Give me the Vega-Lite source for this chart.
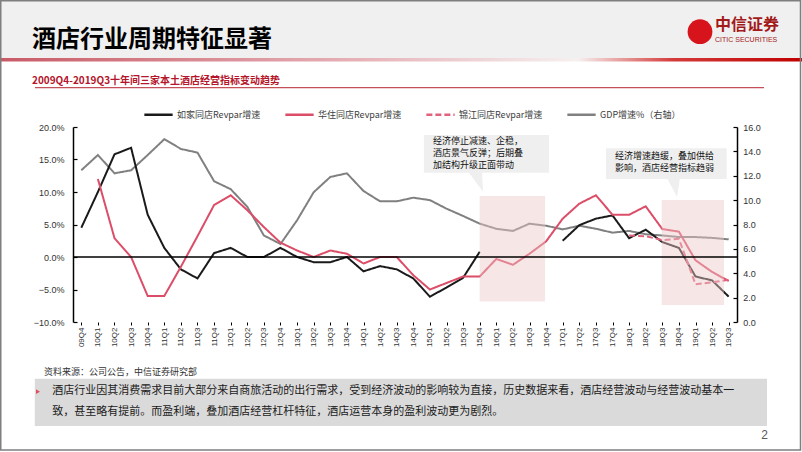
{
  "$schema": "https://vega.github.io/schema/vega-lite/v6.json",
  "width": 664,
  "height": 195,
  "autosize": {"type": "none"},
  "padding": {"left": 73, "top": 127, "right": 65, "bottom": 130},
  "background": "#ffffff",
  "title": {
    "text": "酒店行业周期特征显著",
    "subtitle": "2009Q4-2019Q3十年间三家本土酒店经营指标变动趋势",
    "anchor": "start",
    "frame": "group",
    "dx": -41,
    "offset": -86,
    "font": "Noto Sans CJK SC",
    "fontSize": 24,
    "fontWeight": "bold",
    "color": "#000000",
    "subtitleFont": "Noto Sans CJK SC",
    "subtitleFontSize": 10,
    "subtitleFontWeight": "bold",
    "subtitleColor": "#b5152b",
    "subtitlePadding": 24
  },
  "config": {
    "view": {"stroke": null},
    "font": "Noto Sans CJK SC",
    "axis": {"grid": false}
  },
  "datasets": {
    "rev": [
      {"q":"09Q4","s":"如家同店Revpar增速","v":4.5},
      {"q":"10Q1","s":"如家同店Revpar增速","v":10.0},
      {"q":"10Q2","s":"如家同店Revpar增速","v":15.8},
      {"q":"10Q3","s":"如家同店Revpar增速","v":16.8},
      {"q":"10Q4","s":"如家同店Revpar增速","v":6.5},
      {"q":"11Q1","s":"如家同店Revpar增速","v":1.4},
      {"q":"11Q2","s":"如家同店Revpar增速","v":-1.9},
      {"q":"11Q3","s":"如家同店Revpar增速","v":-3.3},
      {"q":"11Q4","s":"如家同店Revpar增速","v":0.6},
      {"q":"12Q1","s":"如家同店Revpar增速","v":1.4},
      {"q":"12Q2","s":"如家同店Revpar增速","v":0.0},
      {"q":"12Q3","s":"如家同店Revpar增速","v":0.0},
      {"q":"12Q4","s":"如家同店Revpar增速","v":1.4},
      {"q":"13Q1","s":"如家同店Revpar增速","v":0.0},
      {"q":"13Q2","s":"如家同店Revpar增速","v":-0.8},
      {"q":"13Q3","s":"如家同店Revpar增速","v":-0.8},
      {"q":"13Q4","s":"如家同店Revpar增速","v":0.0},
      {"q":"14Q1","s":"如家同店Revpar增速","v":-2.2},
      {"q":"14Q2","s":"如家同店Revpar增速","v":-1.4},
      {"q":"14Q3","s":"如家同店Revpar增速","v":-1.9},
      {"q":"14Q4","s":"如家同店Revpar增速","v":-3.3},
      {"q":"15Q1","s":"如家同店Revpar增速","v":-6.1},
      {"q":"15Q2","s":"如家同店Revpar增速","v":-4.7},
      {"q":"15Q3","s":"如家同店Revpar增速","v":-3.2},
      {"q":"15Q4","s":"如家同店Revpar增速","v":0.8},
      {"q":"16Q1","s":"如家同店Revpar增速","v":null},
      {"q":"16Q2","s":"如家同店Revpar增速","v":null},
      {"q":"16Q3","s":"如家同店Revpar增速","v":null},
      {"q":"16Q4","s":"如家同店Revpar增速","v":null},
      {"q":"17Q1","s":"如家同店Revpar增速","v":2.5},
      {"q":"17Q2","s":"如家同店Revpar增速","v":4.9},
      {"q":"17Q3","s":"如家同店Revpar增速","v":5.9},
      {"q":"17Q4","s":"如家同店Revpar增速","v":6.4},
      {"q":"18Q1","s":"如家同店Revpar增速","v":2.9},
      {"q":"18Q2","s":"如家同店Revpar增速","v":4.2},
      {"q":"18Q3","s":"如家同店Revpar增速","v":2.3},
      {"q":"18Q4","s":"如家同店Revpar增速","v":1.4},
      {"q":"19Q1","s":"如家同店Revpar增速","v":-3.0},
      {"q":"19Q2","s":"如家同店Revpar增速","v":-3.6},
      {"q":"19Q3","s":"如家同店Revpar增速","v":-6.1},
      {"q":"10Q1","s":"华住同店Revpar增速","v":12.0},
      {"q":"10Q2","s":"华住同店Revpar增速","v":2.9},
      {"q":"10Q3","s":"华住同店Revpar增速","v":0.0},
      {"q":"10Q4","s":"华住同店Revpar增速","v":-6.0},
      {"q":"11Q1","s":"华住同店Revpar增速","v":-6.0},
      {"q":"11Q2","s":"华住同店Revpar增速","v":-1.5},
      {"q":"11Q3","s":"华住同店Revpar增速","v":3.2},
      {"q":"11Q4","s":"华住同店Revpar增速","v":8.0},
      {"q":"12Q1","s":"华住同店Revpar增速","v":9.5},
      {"q":"12Q2","s":"华住同店Revpar增速","v":7.2},
      {"q":"12Q3","s":"华住同店Revpar增速","v":4.6},
      {"q":"12Q4","s":"华住同店Revpar增速","v":2.2},
      {"q":"13Q1","s":"华住同店Revpar增速","v":1.0},
      {"q":"13Q2","s":"华住同店Revpar增速","v":0.0},
      {"q":"13Q3","s":"华住同店Revpar增速","v":1.0},
      {"q":"13Q4","s":"华住同店Revpar增速","v":0.5},
      {"q":"14Q1","s":"华住同店Revpar增速","v":-1.0},
      {"q":"14Q2","s":"华住同店Revpar增速","v":0.0},
      {"q":"14Q3","s":"华住同店Revpar增速","v":0.0},
      {"q":"14Q4","s":"华住同店Revpar增速","v":-2.8},
      {"q":"15Q1","s":"华住同店Revpar增速","v":-5.0},
      {"q":"15Q2","s":"华住同店Revpar增速","v":-4.0},
      {"q":"15Q3","s":"华住同店Revpar增速","v":-3.0},
      {"q":"15Q4","s":"华住同店Revpar增速","v":-3.0},
      {"q":"16Q1","s":"华住同店Revpar增速","v":-0.3},
      {"q":"16Q2","s":"华住同店Revpar增速","v":-1.2},
      {"q":"16Q3","s":"华住同店Revpar增速","v":0.5},
      {"q":"16Q4","s":"华住同店Revpar增速","v":2.4},
      {"q":"17Q1","s":"华住同店Revpar增速","v":5.9},
      {"q":"17Q2","s":"华住同店Revpar增速","v":8.2},
      {"q":"17Q3","s":"华住同店Revpar增速","v":9.5},
      {"q":"17Q4","s":"华住同店Revpar增速","v":6.5},
      {"q":"18Q1","s":"华住同店Revpar增速","v":6.5},
      {"q":"18Q2","s":"华住同店Revpar增速","v":7.8},
      {"q":"18Q3","s":"华住同店Revpar增速","v":4.3},
      {"q":"18Q4","s":"华住同店Revpar增速","v":3.9},
      {"q":"19Q1","s":"华住同店Revpar增速","v":-0.5},
      {"q":"19Q2","s":"华住同店Revpar增速","v":-2.3},
      {"q":"19Q3","s":"华住同店Revpar增速","v":-3.7},
      {"q":"18Q1","s":"锦江同店Revpar增速","v":3.3},
      {"q":"18Q2","s":"锦江同店Revpar增速","v":3.2},
      {"q":"18Q3","s":"锦江同店Revpar增速","v":2.6},
      {"q":"18Q4","s":"锦江同店Revpar增速","v":2.8},
      {"q":"19Q1","s":"锦江同店Revpar增速","v":-4.2},
      {"q":"19Q2","s":"锦江同店Revpar增速","v":-3.9},
      {"q":"19Q3","s":"锦江同店Revpar增速","v":-3.5}
    ],
    "gdp": [
      {"q":"09Q4","s":"GDP增速%（右轴）","v":12.45},
      {"q":"10Q1","s":"GDP增速%（右轴）","v":13.7},
      {"q":"10Q2","s":"GDP增速%（右轴）","v":12.2},
      {"q":"10Q3","s":"GDP增速%（右轴）","v":12.45},
      {"q":"10Q4","s":"GDP增速%（右轴）","v":13.7},
      {"q":"11Q1","s":"GDP增速%（右轴）","v":15.0},
      {"q":"11Q2","s":"GDP增速%（右轴）","v":14.2},
      {"q":"11Q3","s":"GDP增速%（右轴）","v":13.9},
      {"q":"11Q4","s":"GDP增速%（右轴）","v":11.55},
      {"q":"12Q1","s":"GDP增速%（右轴）","v":10.9},
      {"q":"12Q2","s":"GDP增速%（右轴）","v":9.45},
      {"q":"12Q3","s":"GDP增速%（右轴）","v":7.1},
      {"q":"12Q4","s":"GDP增速%（右轴）","v":6.4},
      {"q":"13Q1","s":"GDP增速%（右轴）","v":8.35},
      {"q":"13Q2","s":"GDP增速%（右轴）","v":10.65},
      {"q":"13Q3","s":"GDP增速%（右轴）","v":11.9},
      {"q":"13Q4","s":"GDP增速%（右轴）","v":12.2},
      {"q":"14Q1","s":"GDP增速%（右轴）","v":10.75},
      {"q":"14Q2","s":"GDP增速%（右轴）","v":9.9},
      {"q":"14Q3","s":"GDP增速%（右轴）","v":9.9},
      {"q":"14Q4","s":"GDP增速%（右轴）","v":10.2},
      {"q":"15Q1","s":"GDP增速%（右轴）","v":10.0},
      {"q":"15Q2","s":"GDP增速%（右轴）","v":9.3},
      {"q":"15Q3","s":"GDP增速%（右轴）","v":8.7},
      {"q":"15Q4","s":"GDP增速%（右轴）","v":8.07},
      {"q":"16Q1","s":"GDP增速%（右轴）","v":7.65},
      {"q":"16Q2","s":"GDP增速%（右轴）","v":7.47},
      {"q":"16Q3","s":"GDP增速%（右轴）","v":8.07},
      {"q":"16Q4","s":"GDP增速%（右轴）","v":7.9},
      {"q":"17Q1","s":"GDP增速%（右轴）","v":7.6},
      {"q":"17Q2","s":"GDP增速%（右轴）","v":7.9},
      {"q":"17Q3","s":"GDP增速%（右轴）","v":7.65},
      {"q":"17Q4","s":"GDP增速%（右轴）","v":7.33},
      {"q":"18Q1","s":"GDP增速%（右轴）","v":7.47},
      {"q":"18Q2","s":"GDP增速%（右轴）","v":7.2},
      {"q":"18Q3","s":"GDP增速%（右轴）","v":7.1},
      {"q":"18Q4","s":"GDP增速%（右轴）","v":6.97},
      {"q":"19Q1","s":"GDP增速%（右轴）","v":6.97},
      {"q":"19Q2","s":"GDP增速%（右轴）","v":6.9},
      {"q":"19Q3","s":"GDP增速%（右轴）","v":6.78}
    ]
  },
  "layer": [
    {
      "data": {"name": "gdp"},
      "mark": {"type": "line", "strokeWidth": 2},
      "encoding": {
        "x": {
          "field": "q", "type": "ordinal",
          "scale": {"type": "point", "padding": 0.5, "domain": ["09Q4","10Q1","10Q2","10Q3","10Q4","11Q1","11Q2","11Q3","11Q4","12Q1","12Q2","12Q3","12Q4","13Q1","13Q2","13Q3","13Q4","14Q1","14Q2","14Q3","14Q4","15Q1","15Q2","15Q3","15Q4","16Q1","16Q2","16Q3","16Q4","17Q1","17Q2","17Q3","17Q4","18Q1","18Q2","18Q3","18Q4","19Q1","19Q2","19Q3"]},
          "axis": {"title": "资料来源：公司公告，中信证券研究部", "titleX": -29.5, "titleY": 49.7, "titleAlign": "left", "titleBaseline": "middle", "titleAngle": 0, "titleFontSize": 9, "titleFontWeight": "normal", "titleColor": "#333333", "titleFont": "Noto Sans CJK SC", "labelAngle": -90, "labelFontSize": 8, "labelFont": "Liberation Sans", "labelColor": "#333333", "labelPadding": 2, "labelOverlap": false, "domain": false, "ticks": true, "tickSize": 3, "tickColor": "#000000"}
        },
        "y": {
          "field": "v", "type": "quantitative",
          "scale": {"domain": [0, 16], "nice": false, "zero": false},
          "axis": {"orient": "right", "title": null, "values": [0,2,4,6,8,10,12,14,16], "format": ".1f", "labelOverlap": false, "labelFontSize": 9, "labelFont": "Liberation Sans", "labelColor": "#333333", "domainColor": "#000000", "domainWidth": 1.5, "tickColor": "#000000", "tickSize": -4, "tickWidth": 1.2, "labelPadding": 9.7}
        },
        "color": {
          "field": "s", "type": "nominal",
          "scale": {"domain": ["如家同店Revpar增速","华住同店Revpar增速","锦江同店Revpar增速","GDP增速%（右轴）"], "range": ["#1a1a1a","#dc4d68","#e0627c","#808080"]},
          "legend": {"orient": "none", "legendX": 70, "legendY": -28, "direction": "horizontal", "title": null, "symbolType": "stroke", "symbolSize": 800, "symbolStrokeWidth": 2.5, "labelFontSize": 9, "labelColor": "#404040", "labelFont": "Noto Sans CJK SC", "columnPadding": 19, "gridAlign": "all", "labelOffset": 3}
        },
        "strokeDash": {
          "field": "s", "type": "nominal",
          "scale": {"domain": ["如家同店Revpar增速","华住同店Revpar增速","锦江同店Revpar增速","GDP增速%（右轴）"], "range": [[1,0],[1,0],[6,3],[1,0]]}
        }
      }
    },
    {
      "layer": [
        {
          "data": {"name": "rev"},
          "mark": {"type": "line", "strokeWidth": 2, "invalid": "break-paths-filter-domains"},
          "encoding": {
            "x": {
              "field": "q", "type": "ordinal",
              "scale": {"type": "point", "padding": 0.5, "domain": ["09Q4","10Q1","10Q2","10Q3","10Q4","11Q1","11Q2","11Q3","11Q4","12Q1","12Q2","12Q3","12Q4","13Q1","13Q2","13Q3","13Q4","14Q1","14Q2","14Q3","14Q4","15Q1","15Q2","15Q3","15Q4","16Q1","16Q2","16Q3","16Q4","17Q1","17Q2","17Q3","17Q4","18Q1","18Q2","18Q3","18Q4","19Q1","19Q2","19Q3"]},
              "axis": {"title": "资料来源：公司公告，中信证券研究部", "titleX": -29.5, "titleY": 49.7, "titleAlign": "left", "titleBaseline": "middle", "titleAngle": 0, "titleFontSize": 9, "titleFontWeight": "normal", "titleColor": "#333333", "titleFont": "Noto Sans CJK SC", "labelAngle": -90, "labelFontSize": 8, "labelFont": "Liberation Sans", "labelColor": "#333333", "labelPadding": 2, "labelOverlap": false, "domain": false, "ticks": true, "tickSize": 3, "tickColor": "#000000"}
            },
            "y": {
              "field": "v", "type": "quantitative",
              "scale": {"domain": [-10, 20], "nice": false, "zero": false},
              "axis": {"title": null, "values": [-10,-5,0,5,10,15,20], "tickCount": 7, "labelExpr": "format(datum.value, '.1f') + '%'", "labelOverlap": false, "labelFontSize": 9, "labelFont": "Liberation Sans", "labelColor": "#333333", "domainColor": "#000000", "domainWidth": 1.5, "tickColor": "#000000", "tickSize": -4, "tickWidth": 1.2, "labelPadding": 13}
            },
            "color": {"field": "s", "type": "nominal"},
            "strokeDash": {"field": "s", "type": "nominal"}
          }
        },
        {
          "data": {"values": [{}]},
          "mark": {"type": "rect", "color": "#f0f0f0", "xOffset": -81.3, "x2Offset": 73.3},
          "encoding": {"x": {"datum": "09Q4", "type": "ordinal"}, "x2": {"datum": "19Q3"}, "y": {"datum": 39.6, "type": "quantitative"}, "y2": {"datum": 30.62}}
        },
        {
          "data": {"values": [{}]},
          "mark": {"type": "rect", "xOffset": -81.3, "x2Offset": 73.3, "color": {"gradient": "linear", "x1": 0, "y1": 0, "x2": 1, "y2": 0, "stops": [{"offset": 0, "color": "#c85a66"}, {"offset": 0.45, "color": "#e6b2b8"}, {"offset": 0.72, "color": "#f6f0f0"}, {"offset": 0.84, "color": "#d43a3a"}, {"offset": 1, "color": "#c00000"}]}},
          "encoding": {"x": {"datum": "09Q4", "type": "ordinal"}, "x2": {"datum": "19Q3"}, "y": {"datum": 30.62, "type": "quantitative"}, "y2": {"datum": 30.08}}
        },
        {
          "data": {"values": [{}]},
          "mark": {"type": "rect", "filled": false, "color": "#7f7f7f", "strokeWidth": 1.5, "xOffset": -80.55, "x2Offset": 71.8},
          "encoding": {"x": {"datum": "09Q4", "type": "ordinal"}, "x2": {"datum": "19Q3"}, "y": {"datum": 39.42, "type": "quantitative"}, "y2": {"datum": -29.69}}
        },
        {
          "data": {"values": [{}]},
          "mark": {"type": "point", "shape": "circle", "filled": true, "color": "#d7141c", "opacity": 1, "size": 615, "xOffset": -28.7},
          "encoding": {"x": {"datum": "19Q3", "type": "ordinal"}, "y": {"datum": 34.66, "type": "quantitative"}}
        },
        {
          "data": {"values": [{}]},
          "mark": {"type": "text", "align": "left", "baseline": "middle", "fontSize": 16, "fontWeight": "bold", "color": "#a31a1a", "dx": -13.7},
          "encoding": {"x": {"datum": "19Q3", "type": "ordinal"}, "y": {"datum": 35.7, "type": "quantitative"}, "text": {"value": "中信证券"}}
        },
        {
          "data": {"values": [{}]},
          "mark": {"type": "text", "align": "left", "baseline": "middle", "fontSize": 7, "font": "Liberation Sans", "color": "#a31a1a", "dx": -13.7},
          "encoding": {"x": {"datum": "19Q3", "type": "ordinal"}, "y": {"datum": 33.38, "type": "quantitative"}, "text": {"value": "CITIC SECURITIES"}}
        },
        {
          "data": {"values": [{}]},
          "mark": {"type": "rule", "color": "#c4505a", "strokeWidth": 1.2, "xOffset": -46.3, "x2Offset": 35.3},
          "encoding": {"x": {"datum": "09Q4", "type": "ordinal"}, "x2": {"datum": "19Q3"}, "y": {"datum": 26.05, "type": "quantitative"}}
        },
        {
          "data": {"values": [{}]},
          "mark": {"type": "rect", "color": "#ebc7c7", "opacity": 0.45, "x2Offset": -1},
          "encoding": {"x": {"datum": "15Q4", "type": "ordinal"}, "x2": {"datum": "16Q4"}, "y": {"datum": 9.38, "type": "quantitative"}, "y2": {"datum": -6.85}}
        },
        {
          "data": {"values": [{}]},
          "mark": {"type": "rect", "color": "#ebc7c7", "opacity": 0.45, "xOffset": -0.6, "x2Offset": -4.7},
          "encoding": {"x": {"datum": "18Q3", "type": "ordinal"}, "x2": {"datum": "19Q3"}, "y": {"datum": 8.77, "type": "quantitative"}, "y2": {"datum": -7.38}}
        },
        {
          "data": {"values": [{}]},
          "mark": {"type": "rule", "color": "#000000", "strokeWidth": 1.5},
          "encoding": {"y": {"datum": 0, "type": "quantitative"}}
        },
        {
          "data": {"values": [{}]},
          "mark": {"type": "rect", "color": "#efefef", "xOffset": -6, "x2Offset": 3},
          "encoding": {"x": {"datum": "15Q1", "type": "ordinal"}, "x2": {"datum": "16Q4"}, "y": {"datum": 18.77, "type": "quantitative"}, "y2": {"datum": 12.97}}
        },
        {
          "data": {"values": [{}]},
          "mark": {"type": "point", "filled": true, "opacity": 1, "color": "#efefef", "size": 484, "shape": "M-1.06,-0.1L0.21,-0.1L0.3,1.73Z"},
          "encoding": {"x": {"datum": "15Q4", "type": "ordinal"}, "y": {"datum": 12.97, "type": "quantitative"}}
        },
        {
          "data": {"values": [{}]},
          "mark": {"type": "text", "align": "left", "baseline": "top", "fontSize": 9, "lineHeight": 11.7, "dx": 3, "dy": 2.5, "color": "#111111"},
          "encoding": {"x": {"datum": "15Q1", "type": "ordinal"}, "y": {"datum": 18.77, "type": "quantitative"}, "text": {"value": ["经济停止减速、企稳，", "酒店景气反弹；后期叠", "加结构升级正面带动"]}}
        },
        {
          "data": {"values": [{}]},
          "mark": {"type": "rect", "color": "#efefef", "xOffset": -6.5, "x2Offset": -2},
          "encoding": {"x": {"datum": "17Q4", "type": "ordinal"}, "x2": {"datum": "19Q3"}, "y": {"datum": 16.72, "type": "quantitative"}, "y2": {"datum": 12.0}}
        },
        {
          "data": {"values": [{}]},
          "mark": {"type": "point", "filled": true, "opacity": 1, "color": "#efefef", "size": 484, "shape": "M-1.08,-0.1L0.1,-0.1L-0.17,1.64Z"},
          "encoding": {"x": {"datum": "18Q4", "type": "ordinal"}, "y": {"datum": 12.0, "type": "quantitative"}}
        },
        {
          "data": {"values": [{}]},
          "mark": {"type": "text", "align": "left", "baseline": "top", "fontSize": 9, "lineHeight": 11.7, "dx": 2.5, "dy": 4, "color": "#111111"},
          "encoding": {"x": {"datum": "17Q4", "type": "ordinal"}, "y": {"datum": 16.72, "type": "quantitative"}, "text": {"value": ["经济增速趋缓，叠加供给", "影响，酒店经营指标趋弱"]}}
        },
        {
          "data": {"values": [{}]},
          "mark": {"type": "rect", "color": "#dadada", "xOffset": -46.5, "x2Offset": 38.3},
          "encoding": {"x": {"datum": "09Q4", "type": "ordinal"}, "x2": {"datum": "19Q3"}, "y": {"datum": -18.72, "type": "quantitative"}, "y2": {"datum": -26.0}}
        },
        {
          "data": {"values": [{}]},
          "mark": {"type": "point", "shape": "triangle-right", "filled": true, "opacity": 1, "color": "#e05060", "size": 22, "xOffset": -43.3},
          "encoding": {"x": {"datum": "09Q4", "type": "ordinal"}, "y": {"datum": -20.72, "type": "quantitative"}}
        },
        {
          "data": {"values": [{}]},
          "mark": {"type": "text", "align": "left", "baseline": "middle", "fontSize": 11, "dx": -29, "color": "#1a1a1a"},
          "encoding": {"x": {"datum": "09Q4", "type": "ordinal"}, "y": {"datum": -20.57, "type": "quantitative"}, "text": {"value": "酒店行业因其消费需求目前大部分来自商旅活动的出行需求，受到经济波动的影响较为直接，历史数据来看，酒店经营波动与经营波动基本一"}}
        },
        {
          "data": {"values": [{}]},
          "mark": {"type": "text", "align": "left", "baseline": "middle", "fontSize": 11, "dx": -29, "color": "#1a1a1a"},
          "encoding": {"x": {"datum": "09Q4", "type": "ordinal"}, "y": {"datum": -23.8, "type": "quantitative"}, "text": {"value": "致，甚至略有提前。而盈利端，叠加酒店经营杠杆特征，酒店运营本身的盈利波动更为剧烈。"}}
        },
        {
          "data": {"values": [{}]},
          "mark": {"type": "text", "align": "center", "baseline": "middle", "fontSize": 12, "font": "Liberation Sans", "dx": 36, "color": "#595959"},
          "encoding": {"x": {"datum": "19Q3", "type": "ordinal"}, "y": {"datum": -27.38, "type": "quantitative"}, "text": {"value": "2"}}
        }
      ]
    }
  ],
  "resolve": {"scale": {"y": "independent"}}
}
